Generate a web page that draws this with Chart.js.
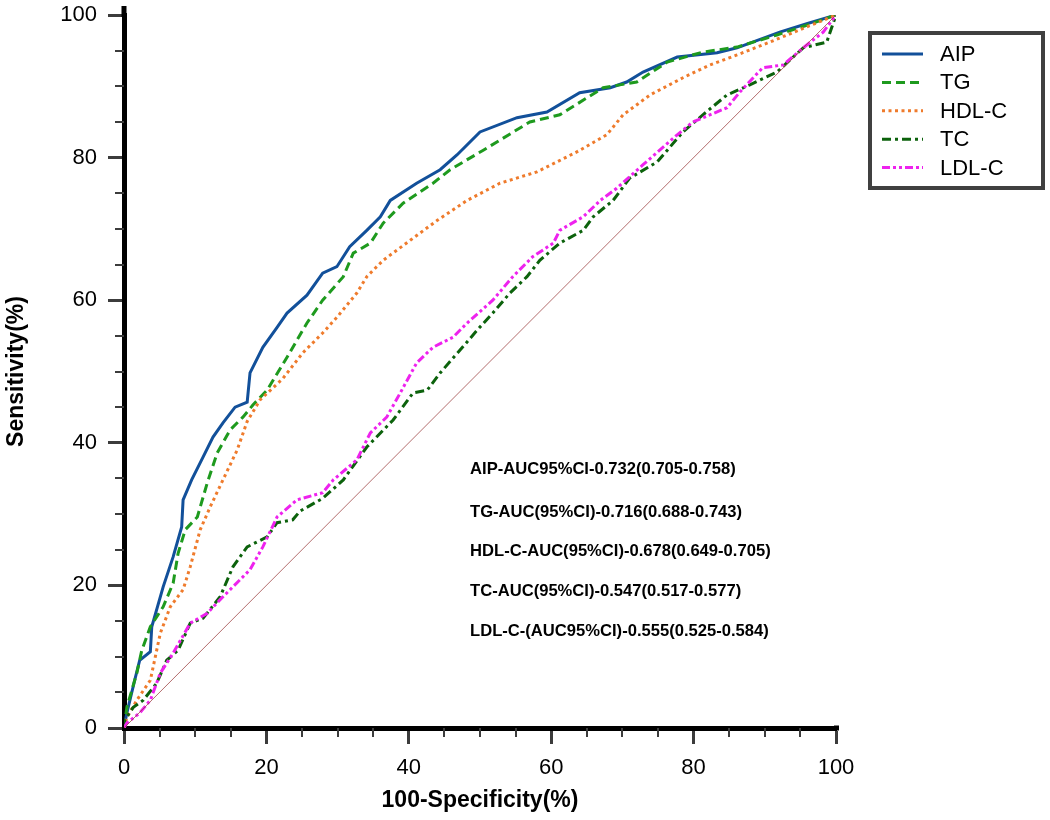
<!DOCTYPE html>
<html>
<head>
<meta charset="utf-8">
<script src="https://cdn.jsdelivr.net/npm/chart.js@4.4.1/dist/chart.umd.min.js"></script>
<style>
  body { margin: 0; background: #fff; }
  canvas { display: block; }
</style>
</head>
<body>
<canvas id="rocChart" width="1050" height="820"></canvas>
<script>
const FONT = '"Liberation Sans", Arial, sans-serif';

// ROC points (x = 100-Specificity, y = Sensitivity)
const aipX = [0, 0.4, 1.5, 2.2, 3.7, 3.9, 5.5, 6.9, 8.1, 8.3, 9.5, 11.1, 12.5, 13.9, 15.6, 17.3, 17.7, 19.5, 21.5, 22.9, 25.7, 27.9, 29.9, 31.7, 34.1, 36, 37.4, 41.1, 44.4, 46.8, 50, 55.2, 59.4, 64, 68.3, 70.6, 72.9, 77.7, 83.3, 86.1, 92.1, 96, 100];
const aipY = [0, 2.1, 6.7, 9.5, 10.7, 14.2, 19.8, 24, 28.2, 32, 34.8, 38, 40.8, 42.8, 45, 45.7, 49.8, 53.4, 56.2, 58.2, 60.7, 63.8, 64.7, 67.5, 69.8, 71.7, 74, 76.4, 78.3, 80.4, 83.6, 85.6, 86.4, 89.1, 89.8, 90.6, 92, 94.1, 94.7, 95.4, 97.6, 98.8, 100];

const tgX = [0, 0.4, 1.8, 2.5, 3.7, 5.5, 6.9, 7.6, 8.6, 10.3, 11.7, 13.1, 14.9, 16.7, 18.1, 20.1, 22.9, 25.7, 27.9, 30.8, 32.2, 34.6, 36.4, 39.2, 43.4, 45.8, 50.4, 57, 61.2, 67.3, 72, 76.3, 81.3, 86.1, 91.7, 96, 100];
const tgY = [0, 2.9, 7.7, 10.9, 14.2, 17, 20.3, 24.5, 27.8, 29.6, 34.4, 38.6, 41.8, 43.6, 45.3, 47.4, 52, 56.8, 60, 63.3, 66.6, 68, 70.8, 73.6, 76.4, 78.3, 81, 85, 86, 89.8, 90.6, 93.4, 94.8, 95.5, 97.2, 98.6, 100];

const hdlX = [0, 0.4, 1.8, 3.7, 5.1, 6.5, 8.3, 9.3, 10.7, 12.1, 13.9, 15.9, 17.3, 19.1, 22.3, 25.1, 27.9, 29.9, 32.7, 34.1, 36.4, 40.2, 44, 48.2, 52.8, 58, 63.6, 67.8, 70.1, 73.9, 78.5, 82.3, 86.1, 90.7, 97.3, 100];
const hdlY = [0, 1.5, 3.9, 6.7, 13.3, 17, 19.4, 22.6, 27.8, 31, 34.8, 39, 43, 46, 49, 52.6, 55.4, 57.6, 61, 63.3, 65.6, 68.4, 71.2, 74, 76.4, 78, 80.8, 83.2, 86, 88.8, 91.2, 93, 94.4, 96.2, 98.9, 100];

const tcX = [0, 0.1, 1.3, 2.7, 4.6, 6, 7.6, 9.3, 11.1, 13.5, 15.3, 17.3, 20.1, 21.5, 23.7, 24.7, 27.9, 30.8, 34.1, 37.8, 40.6, 42.6, 44.4, 47.2, 49.6, 51.8, 54.2, 56.6, 58.4, 61.2, 64.5, 65.9, 68.7, 71, 74.9, 78.5, 81.3, 84.7, 87.9, 91.7, 95.4, 98.7, 100];
const tcY = [0, 1.1, 2.9, 3.9, 6.3, 9.5, 10.9, 14.7, 15.4, 18.4, 22.6, 25.4, 26.8, 28.8, 29.2, 30.4, 32.2, 34.8, 39.4, 43.2, 47, 47.4, 49.8, 53, 55.8, 58.2, 61, 63.3, 65.6, 68, 69.8, 71.7, 74, 77.1, 79.4, 83.6, 86, 88.8, 90.2, 92, 95.4, 96.2, 100];

const ldlX = [0, 0.4, 2.2, 3.7, 5.1, 6.9, 9.3, 11.7, 13.5, 15.3, 17.7, 19.5, 21.5, 24.3, 27.9, 29.4, 32.7, 34.6, 36.9, 38.8, 41.1, 43.4, 46.2, 48.2, 51.8, 54.6, 57.4, 60.3, 61.2, 64.5, 66.9, 69.2, 72.9, 77.7, 79.9, 84.7, 86.5, 89.7, 92.6, 95.4, 98.2, 100];
const ldlY = [0, 0.7, 2.1, 3.9, 7.7, 10.5, 14.7, 16.1, 18, 19.8, 22.2, 25.4, 29.6, 32, 33, 34.8, 37.6, 41.4, 43.6, 47, 51.2, 53.4, 54.8, 56.8, 60, 63.3, 66.1, 68, 69.8, 71.7, 74, 75.7, 79, 83.2, 85, 87, 89.2, 92.6, 93, 95.4, 97.6, 100];

const refX = [0, 100];
const refY = [0, 100];

const seriesNames = ['AIP', 'TG', 'HDL-C', 'TC', 'LDL-C'];
const aucLabels = [
  'AIP-AUC95%CI-0.732(0.705-0.758)',
  'TG-AUC(95%CI)-0.716(0.688-0.743)',
  'HDL-C-AUC(95%CI)-0.678(0.649-0.705)',
  'TC-AUC(95%CI)-0.547(0.517-0.577)',
  'LDL-C-(AUC95%CI)-0.555(0.525-0.584)'
];
const aucTextX = 48.6;
const aucTextY = [36.2, 30.3, 24.8, 19.2, 13.5];
const axisTicks = [0, 20, 40, 60, 80, 100];

function toPoints(xs, ys) {
  return xs.map((v, i) => ({ x: v, y: ys[i] }));
}

const styles = {
  'AIP':   { color: '#12509a', dash: [] },
  'TG':    { color: '#1e9a1e', dash: [9, 5] },
  'HDL-C': { color: '#ef7b2c', dash: [3, 3.5] },
  'TC':    { color: '#0c620c', dash: [9, 4, 3, 4] },
  'LDL-C': { color: '#ee22ee', dash: [8, 3, 3, 3, 3, 3] }
};
const seriesData = {
  'AIP': toPoints(aipX, aipY),
  'TG': toPoints(tgX, tgY),
  'HDL-C': toPoints(hdlX, hdlY),
  'TC': toPoints(tcX, tcY),
  'LDL-C': toPoints(ldlX, ldlY)
};

const datasets = [{
  label: 'ref',
  data: toPoints(refX, refY),
  borderColor: '#a04848',
  borderWidth: 0.8,
  pointRadius: 0
}];
seriesNames.slice().reverse().forEach(name => {
  datasets.push({
    label: name,
    data: seriesData[name],
    borderColor: styles[name].color,
    borderDash: styles[name].dash,
    borderWidth: 3,
    pointRadius: 0
  });
});

const extras = {
  id: 'extras',
  afterDraw(chart) {
    const { ctx, chartArea } = chart;
    const x = chart.scales.x, y = chart.scales.y;
    ctx.save();

    // axis lines run a little past the last tick
    ctx.strokeStyle = '#000';
    ctx.lineWidth = 5;
    ctx.beginPath();
    ctx.moveTo(chartArea.left, chartArea.top + 2);
    ctx.lineTo(chartArea.left, chartArea.top - 9);
    ctx.moveTo(chartArea.right - 2, chartArea.bottom);
    ctx.lineTo(chartArea.right + 3, chartArea.bottom);
    ctx.stroke();

    // minor ticks
    ctx.strokeStyle = '#3c3c3c';
    ctx.lineWidth = 2;
    for (let v = 5; v < 100; v += 5) {
      if (v % 20 === 0) continue;
      const px = Math.round(x.getPixelForValue(v));
      ctx.beginPath();
      ctx.moveTo(px, chartArea.bottom);
      ctx.lineTo(px, chartArea.bottom + 9);
      ctx.stroke();
      const py = Math.round(y.getPixelForValue(v));
      ctx.beginPath();
      ctx.moveTo(chartArea.left, py);
      ctx.lineTo(chartArea.left - 9, py);
      ctx.stroke();
    }

    // AUC texts
    ctx.font = 'bold 16.6px ' + FONT;
    ctx.fillStyle = '#000';
    ctx.textBaseline = 'middle';
    ctx.textAlign = 'left';
    aucLabels.forEach((t, i) => {
      ctx.fillText(t, x.getPixelForValue(aucTextX), y.getPixelForValue(aucTextY[i]));
    });

    // legend
    const lx = chartArea.right + 34, ly = 33;
    ctx.strokeStyle = '#404040';
    ctx.lineWidth = 4;
    ctx.strokeRect(lx, ly, 173, 155);
    ctx.font = '22px ' + FONT;
    seriesNames.forEach((name, i) => {
      const ry = 54 + i * 28.4;
      ctx.strokeStyle = styles[name].color;
      ctx.lineWidth = 3;
      ctx.setLineDash(styles[name].dash);
      ctx.beginPath();
      ctx.moveTo(lx + 12, ry);
      ctx.lineTo(lx + 53, ry);
      ctx.stroke();
      ctx.setLineDash([]);
      ctx.fillStyle = '#000';
      ctx.fillText(name, lx + 70, ry + 1);
    });
    ctx.restore();
  }
};

const ctx = document.getElementById('rocChart');
new Chart(ctx, {
  type: 'scatter',
  data: { datasets: datasets },
  options: {
    responsive: false,
    maintainAspectRatio: false,
    devicePixelRatio: 1,
    animation: false,
    showLine: true,
    layout: { padding: { top: 15, right: 214, left: 0, bottom: 0 } },
    plugins: { legend: { display: false }, tooltip: { enabled: false } },
    elements: { line: { tension: 0 } },
    scales: {
      x: {
        type: 'linear',
        min: 0, max: 100,
        afterBuildTicks: s => { s.ticks = axisTicks.map(v => ({ value: v })); },
        afterFit: s => { s.height = 92; s.paddingLeft = 0; s.paddingRight = 0; },
        ticks: { font: { family: FONT, size: 22 }, color: '#000', padding: 11, maxRotation: 0 },
        grid: { drawOnChartArea: false, drawTicks: true, tickLength: 16, tickWidth: 3, tickColor: '#3c3c3c' },
        border: { display: true, color: '#000', width: 5 },
        title: { display: true, text: '100-Specificity(%)', color: '#000',
                 font: { family: FONT, size: 23, weight: 'bold' }, padding: { top: 0, bottom: 6 } }
      },
      y: {
        type: 'linear',
        min: 0, max: 100,
        afterBuildTicks: s => { s.ticks = axisTicks.map(v => ({ value: v })); },
        afterFit: s => { s.width = 124; s.paddingTop = 0; s.paddingBottom = 0; },
        ticks: { font: { family: FONT, size: 22 }, color: '#000', padding: 11 },
        grid: { drawOnChartArea: false, drawTicks: true, tickLength: 16, tickWidth: 3, tickColor: '#3c3c3c' },
        border: { display: true, color: '#000', width: 5 },
        title: { display: true, text: 'Sensitivity(%)', color: '#000',
                 font: { family: FONT, size: 23, weight: 'bold' }, padding: { top: 3, bottom: 0 } }
      }
    }
  },
  plugins: [extras]
});
</script>
</body>
</html>
